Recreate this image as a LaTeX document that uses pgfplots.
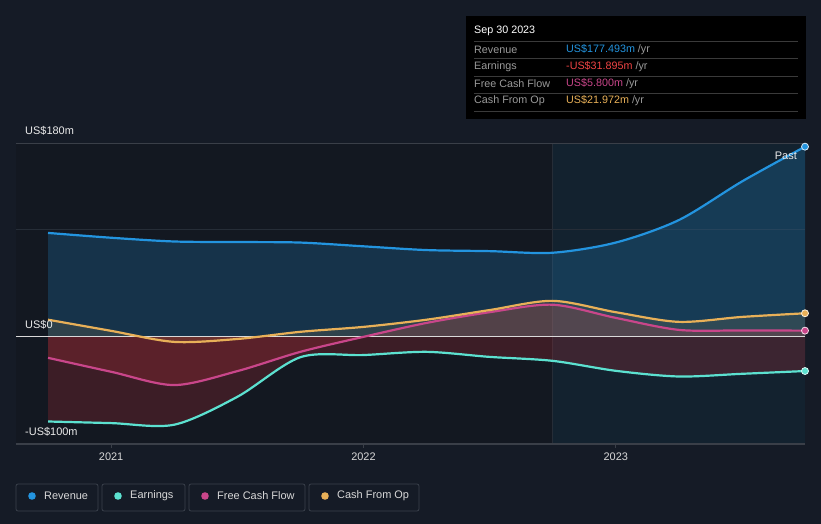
\documentclass[border=0pt]{standalone}
\usepackage{fontspec}
\setmainfont{Liberation Sans}
\usepackage{pgfplots}
\pgfplotsset{compat=1.18}
\usepgfplotslibrary{fillbetween}
\definecolor{bgc}{HTML}{151B26}
\definecolor{plotbg}{HTML}{131821}
\definecolor{pastbg}{HTML}{13222F}
\definecolor{gridc}{HTML}{3A3F48}
\definecolor{gridc2}{HTML}{262D37}
\definecolor{revc}{HTML}{2394DF}
\definecolor{earnc}{HTML}{5CE1D0}
\definecolor{fcfc}{HTML}{C9468A}
\definecolor{cfoc}{HTML}{E8B058}
\definecolor{redc}{HTML}{C0303A}
\definecolor{labc}{HTML}{9A9A9A}
\definecolor{txtc}{HTML}{D8D8D8}
\definecolor{sepc}{HTML}{3A3A3A}
\definecolor{boxc}{HTML}{3A414B}
\definecolor{errc}{HTML}{F04444}
\pagecolor{bgc}
\begin{document}
\begin{tikzpicture}[x=1bp,y=1bp]
\begin{axis}[at={(16bp,80bp)}, anchor=south west, scale only axis,
  set layers,
  width=789bp, height=300bp,
  xmin=2020.623, xmax=2023.75, ymin=-100, ymax=180,
  axis line style={draw=none},
  xtick={2021,2022,2023}, xticklabels={2021,2022,2023},
  xtick pos=bottom,
  ytick=\empty,
  tick align=outside, major tick length=4bp,
  tick style={color=gridc, line width=0.8bp},
  xticklabel style={font=\fontsize{11}{13}\selectfont, text=txtc, yshift=-1bp},
  clip=true]
\begin{pgfonlayer}{axis background}
\fill[plotbg] (axis cs:2020.623,-100) rectangle (axis cs:2022.75,180);
\fill[pastbg] (axis cs:2022.75,-100) rectangle (axis cs:2023.75,180);
\draw[gridc2, line width=0.8bp] (axis cs:2022.75,-100) -- (axis cs:2022.75,180);
\draw[gridc, line width=1bp] (axis cs:2020.623,180) -- (axis cs:2023.75,180);
\draw[gridc2, line width=1bp] (axis cs:2020.623,100) -- (axis cs:2023.75,100);
\draw[gridc, line width=1.2bp] (axis cs:2020.623,-100) -- (axis cs:2023.75,-100);
\end{pgfonlayer}

\addplot[draw=none, name path=zero] coordinates {(2020.75,0) (2023.75,0)};

\addplot[draw=none, smooth, name path=rev] coordinates {
(2020.75,97) (2021.0,92.5) (2021.25,89) (2021.5,88.5) (2021.75,88) (2022.0,84.5)
(2022.25,81) (2022.5,80) (2022.75,78.5) (2023.0,88) (2023.25,109) (2023.5,145) (2023.75,177.5)};
\addplot[draw=none, smooth, name path=earn] coordinates {
(2020.75,-79) (2021.0,-80.5) (2021.25,-82) (2021.5,-56) (2021.75,-19) (2022.0,-17)
(2022.25,-14) (2022.5,-18.7) (2022.75,-22.4) (2023.0,-31.7) (2023.25,-37) (2023.5,-34.5) (2023.75,-31.9)};
\addplot[draw=none, smooth, name path=fcf] coordinates {
(2020.75,-19.6) (2021.0,-32.6) (2021.25,-45) (2021.5,-32) (2021.75,-14) (2022.0,0)
(2022.25,13) (2022.5,23) (2022.75,30) (2023.0,17.7) (2023.25,6.5) (2023.5,6) (2023.75,5.8)};
\addplot[draw=none, smooth, name path=cfo] coordinates {
(2020.75,16) (2021.0,5.6) (2021.25,-4.7) (2021.5,-2) (2021.75,4.7) (2022.0,9.3)
(2022.25,16) (2022.5,25) (2022.75,33.6) (2023.0,23) (2023.25,14) (2023.5,18.6) (2023.75,22)};

\addplot[revc, fill opacity=0.22] fill between[of=rev and zero];
\addplot[redc, fill opacity=0.24] fill between[of=earn and zero];
\addplot[redc, fill opacity=0.24] fill between[of=fcf and zero];
\addplot[cfoc, fill opacity=0.12] fill between[of=cfo and zero];

\draw[white!85!black, line width=1bp] (axis cs:2020.623,0) -- (axis cs:2023.75,0);

\addplot[revc, line width=2.2bp, smooth, mark=*, mark indices={13}, mark options={fill=revc, draw=white!80!revc, line width=0.8bp}, mark size=3.5bp] coordinates {
(2020.75,97) (2021.0,92.5) (2021.25,89) (2021.5,88.5) (2021.75,88) (2022.0,84.5)
(2022.25,81) (2022.5,80) (2022.75,78.5) (2023.0,88) (2023.25,109) (2023.5,145) (2023.75,177.5)};
\addplot[earnc, line width=2.2bp, smooth, mark=*, mark indices={13}, mark options={fill=earnc, draw=white!80!earnc, line width=0.8bp}, mark size=3.5bp] coordinates {
(2020.75,-79) (2021.0,-80.5) (2021.25,-82) (2021.5,-56) (2021.75,-19) (2022.0,-17)
(2022.25,-14) (2022.5,-18.7) (2022.75,-22.4) (2023.0,-31.7) (2023.25,-37) (2023.5,-34.5) (2023.75,-31.9)};
\addplot[fcfc, line width=2.2bp, smooth, mark=*, mark indices={13}, mark options={fill=fcfc, draw=white!80!fcfc, line width=0.8bp}, mark size=3.5bp] coordinates {
(2020.75,-19.6) (2021.0,-32.6) (2021.25,-45) (2021.5,-32) (2021.75,-14) (2022.0,0)
(2022.25,13) (2022.5,23) (2022.75,30) (2023.0,17.7) (2023.25,6.5) (2023.5,6) (2023.75,5.8)};
\addplot[cfoc, line width=2.2bp, smooth, mark=*, mark indices={13}, mark options={fill=cfoc, draw=white!80!cfoc, line width=0.8bp}, mark size=3.5bp] coordinates {
(2020.75,16) (2021.0,5.6) (2021.25,-4.7) (2021.5,-2) (2021.75,4.7) (2022.0,9.3)
(2022.25,16) (2022.5,25) (2022.75,33.6) (2023.0,23) (2023.25,14) (2023.5,18.6) (2023.75,22)};
\end{axis}

% y labels
\begin{scope}[every node/.style={font=\fontsize{11}{13}\selectfont, text=white!92!black, inner sep=0pt}]
\node[anchor=west] at (25,393) {US\$180m};
\node[anchor=west] at (25,199) {US\$0};
\node[anchor=west] at (25,92) {-US\$100m};
\node[anchor=east] at (797,368) {Past};
\end{scope}

% tooltip
\fill[black] (466,508) rectangle (806,405);
\begin{scope}[every node/.style={font=\fontsize{10.8}{12}\selectfont, inner sep=0pt, anchor=west}]
\node[text=white] at (474,493) {Sep 30 2023};
\foreach \yy in {483,466,448,431,413} {\draw[sepc, line width=0.8bp] (474,\yy) -- (798,\yy);}
\node[text=labc] at (474,474.5) {Revenue};
\node[text=labc] at (474,457.5) {Earnings};
\node[text=labc] at (474,440) {Free Cash Flow};
\node[text=labc] at (474,423) {Cash From Op};
\node at (566,474.5) {\textcolor{revc}{US\$177.493m} \textcolor{labc}{/yr}};
\node at (566,457.5) {\textcolor{errc}{-US\$31.895m} \textcolor{labc}{/yr}};
\node at (566,440) {\textcolor{fcfc}{US\$5.800m} \textcolor{labc}{/yr}};
\node at (566,423) {\textcolor{cfoc}{US\$21.972m} \textcolor{labc}{/yr}};
\end{scope}

% legend
\begin{scope}[every node/.style={font=\fontsize{11}{13}\selectfont, text=txtc, inner sep=0pt, anchor=west}]
\draw[boxc, line width=0.8bp, rounded corners=2bp] (16,40) rectangle (98,13);
\draw[boxc, line width=0.8bp, rounded corners=2bp] (102,40) rectangle (185,13);
\draw[boxc, line width=0.8bp, rounded corners=2bp] (189,40) rectangle (305,13);
\draw[boxc, line width=0.8bp, rounded corners=2bp] (309,40) rectangle (419,13);
\fill[revc] (32,28) circle (3.8);
\fill[earnc] (118,28) circle (3.8);
\fill[fcfc] (205,28) circle (3.8);
\fill[cfoc] (325,28) circle (3.8);
\node at (44,28) {Revenue};
\node at (130,28) {Earnings};
\node at (217,28) {Free Cash Flow};
\node at (337,28) {Cash From Op};
\end{scope}
\path (0,0) rectangle (821,524);
\end{tikzpicture}
\end{document}
